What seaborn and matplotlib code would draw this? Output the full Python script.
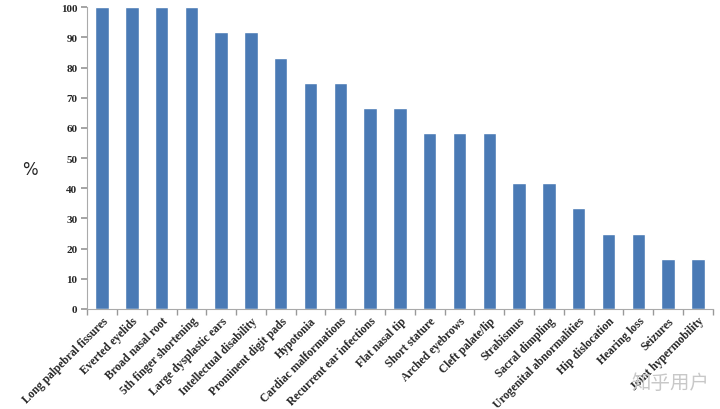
import matplotlib
matplotlib.use("Agg")
import matplotlib.pyplot as plt
import seaborn as sns
import pandas as pd
import numpy as np

categories = ["Long palpebral fissures", "Everted eyelids", "Broad nasal root",
              "5th finger shortening", "Large dysplastic ears", "Intellectual disability",
              "Prominent digit pads", "Hypotonia", "Cardiac malformations",
              "Recurrent ear infections", "Flat nasal tip", "Short stature",
              "Arched eyebrows", "Cleft palate/lip", "Strabismus", "Sacral dimpling",
              "Urogenital abnormalities", "Hip dislocation", "Hearing loss",
              "Seizures", "Joint hypermobility"]
values = [100, 100, 100, 100, 91.7, 91.7, 83.3, 75, 75, 66.7, 66.7, 58.3,
          58.3, 58.3, 41.7, 41.7, 33.3, 25, 25, 16.7, 16.7]
yticks = [0, 10, 20, 30, 40, 50, 60, 70, 80, 90, 100]

sns.set_theme(style="white")
plt.rcParams['font.family'] = ['Liberation Serif', 'DejaVu Serif']

df = pd.DataFrame({"cat": categories, "val": values})
fig = plt.figure(figsize=(7.2, 4.1), dpi=100)
ax = fig.add_axes([0.121, 0.244, 0.869, 0.736])
sns.barplot(data=df, x="cat", y="val", color="#4a7ab5", saturation=1,
            width=0.45, ax=ax)
ax.set_ylim(0, 100)
ax.set_xlim(-0.5, len(categories) - 0.5)
ax.set_yticks(yticks)
ax.set_yticklabels([str(t) for t in yticks], fontsize=8, fontweight='bold')
ax.set_xticks(np.arange(len(categories)))
ax.set_xticklabels(categories, rotation=45, ha='right', rotation_mode='anchor',
                   fontsize=8.3, fontweight='bold')
ax.tick_params(axis='x', length=0, pad=4)
ax.set_xticks(np.arange(-0.5, len(categories), 1), minor=True)
ax.tick_params(axis='x', which='minor', length=4, color='#999999', direction='out', bottom=True)
ax.tick_params(axis='y', length=4, color='#999999', direction='out', left=True, pad=3)
ax.set_xlabel("")
ax.set_ylabel("")
fig.text(0.042, 0.585, "%", ha='center', va='center', fontsize=12,
         family=['DejaVu Sans'])
for s in ['top', 'right']:
    ax.spines[s].set_visible(False)
for s in ['left', 'bottom']:
    ax.spines[s].set_color('#aaaaaa')
    ax.spines[s].set_linewidth(0.8)

fig.text(0.985, 0.065, "知乎用户", ha='right', va='center', fontsize=14,
         color='#c8c8c8', family=['Noto Sans CJK SC', 'DejaVu Sans'])

fig.savefig("out.png", dpi=100)
